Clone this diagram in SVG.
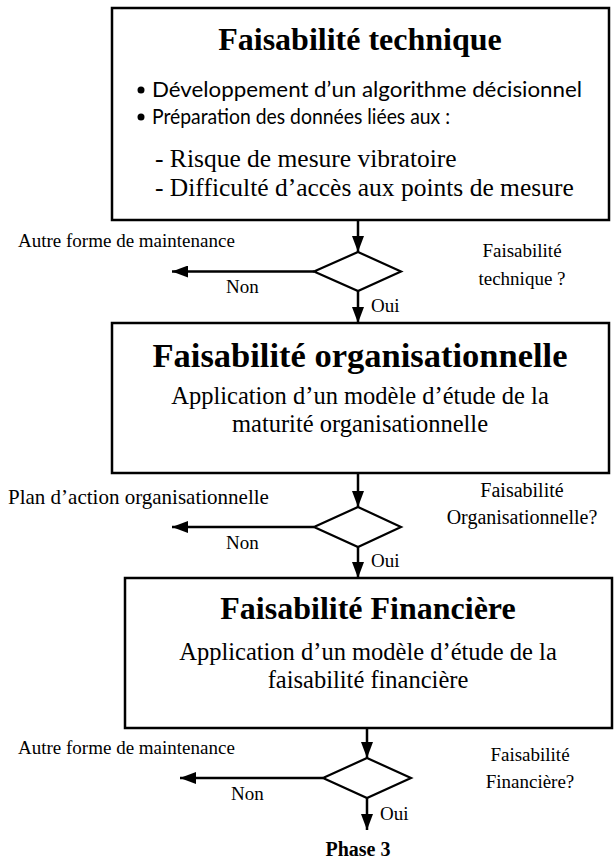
<svg xmlns="http://www.w3.org/2000/svg" width="616" height="863" viewBox="0 0 616 863">
<style>
.box{fill:#fff;stroke:#000;stroke-width:2.5}
.dia{fill:#fff;stroke:#000;stroke-width:2.2}
.ln{fill:none;stroke:#000;stroke-width:2.5}
.t{font-family:"Liberation Serif","Times New Roman",serif;fill:#000}
.title{font-family:"Liberation Serif","Times New Roman",serif;font-weight:bold;font-size:32px;text-anchor:middle}
.body{font-size:24.5px}
.lab{font-size:19px}
.c{text-anchor:middle}
.sans{font-family:Lato,"Liberation Sans",sans-serif;font-size:21px;fill:#000}
</style>
<defs>
<marker id="ah" markerUnits="userSpaceOnUse" markerWidth="16" markerHeight="12" refX="16" refY="6" orient="auto">
<path d="M0,0 L16,6 L0,12 z" fill="#000"/>
</marker>
</defs>
<g id="connectors">
<line class="ln" x1="358" y1="220" x2="358" y2="252" marker-end="url(#ah)"/>
<line class="ln" x1="358" y1="291" x2="358" y2="323" marker-end="url(#ah)"/>
<line class="ln" x1="314" y1="271.5" x2="172" y2="271.5" marker-end="url(#ah)"/>
<line class="ln" x1="358" y1="473" x2="358" y2="507" marker-end="url(#ah)"/>
<line class="ln" x1="358" y1="547" x2="358" y2="578" marker-end="url(#ah)"/>
<line class="ln" x1="314" y1="527" x2="172" y2="527" marker-end="url(#ah)"/>
<line class="ln" x1="367" y1="728" x2="367" y2="758" marker-end="url(#ah)"/>
<line class="ln" x1="367" y1="798" x2="367" y2="830" marker-end="url(#ah)"/>
<line class="ln" x1="323" y1="778" x2="180" y2="778" marker-end="url(#ah)"/>
</g>
<g id="box1">
<rect class="box" x="112" y="8" width="497" height="212"/>
<text class="t title" x="360" y="50">Faisabilité technique</text>
<circle cx="141" cy="90" r="3.5" fill="#000"/>
<circle cx="141" cy="117" r="3.5" fill="#000"/>
<text class="sans" x="152" y="97" textLength="430" lengthAdjust="spacingAndGlyphs">Développement d’un algorithme décisionnel</text>
<text class="sans" x="152" y="124" textLength="298" lengthAdjust="spacingAndGlyphs">Préparation des données liées aux :</text>
<text class="t" x="155" y="167" font-size="25.5">- Risque de mesure vibratoire</text>
<text class="t" x="155" y="196" font-size="25.5">- Difficulté d’accès aux points de mesure</text>
</g>
<g id="decision1">
<polygon class="dia" points="358,252 401,271.5 358,291 314,271.5"/>
<text class="t lab" x="18" y="247">Autre forme de maintenance</text>
<text class="t lab" x="226" y="293">Non</text>
<text class="t lab" x="371" y="312">Oui</text>
<text class="t lab c" x="522" y="257">Faisabilité</text>
<text class="t lab c" x="522" y="285">technique ?</text>
</g>
<g id="box2">
<rect class="box" x="112" y="323" width="497" height="150"/>
<text class="t title" x="360" y="367" font-size="34.5" style="font-size:34.5px">Faisabilité organisationnelle</text>
<text class="t body c" x="360" y="404">Application d’un modèle d’étude de la</text>
<text class="t body c" x="360" y="432">maturité organisationnelle</text>
</g>
<g id="decision2">
<polygon class="dia" points="358,507 401,527 358,547 314,527"/>
<text class="t" x="8" y="504" font-size="21">Plan d’action organisationnelle</text>
<text class="t lab" x="226" y="549">Non</text>
<text class="t lab" x="371" y="567">Oui</text>
<text class="t c" x="522" y="497" font-size="20">Faisabilité</text>
<text class="t c" x="522" y="524" font-size="20">Organisationnelle?</text>
</g>
<g id="box3">
<rect class="box" x="125" y="578" width="487" height="150"/>
<text class="t title" x="368" y="619">Faisabilité Financière</text>
<text class="t body c" x="368" y="660">Application d’un modèle d’étude de la</text>
<text class="t body c" x="368" y="688">faisabilité financière</text>
</g>
<g id="decision3">
<polygon class="dia" points="367,758 411,778 367,798 323,778"/>
<text class="t lab" x="18" y="754">Autre forme de maintenance</text>
<text class="t lab" x="231" y="800">Non</text>
<text class="t lab" x="380" y="820">Oui</text>
<text class="t lab c" x="530" y="761">Faisabilité</text>
<text class="t lab c" x="530" y="788">Financière?</text>
</g>
<g id="phase3">
<text class="t c" x="358" y="856" font-size="20" font-weight="bold">Phase 3</text>
</g>
</svg>
